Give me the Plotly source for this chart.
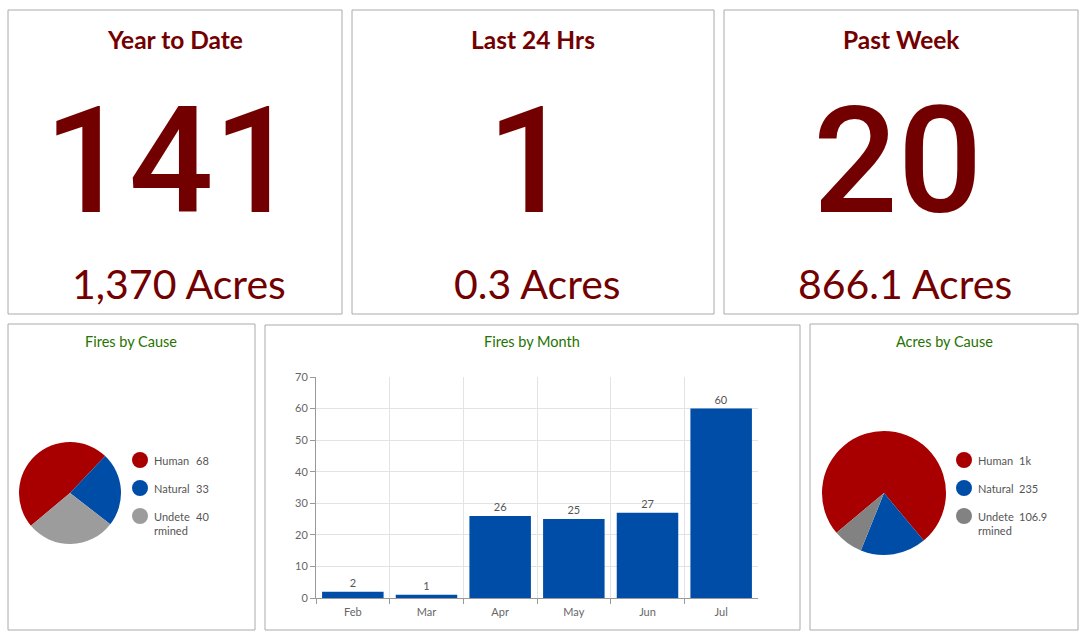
import plotly.graph_objects as go

W, H = 1088, 641

# ---------------- data ----------------
stat_titles = ["Year to Date", "Last 24 Hrs", "Past Week"]
stat_counts = [141, 1, 20]
stat_acres = ["1,370", "0.3", "866.1"]

cause_labels = ["Human", "Natural", "Undetermined"]
fires_by_cause = [68, 33, 40]
acres_by_cause = [1028.1, 235, 106.9]

months = ["Feb", "Mar", "Apr", "May", "Jun", "Jul"]
fires_by_month = [2, 1, 26, 25, 27, 60]

# ---------------- styling ----------------
DARK_RED = "#730000"
GREEN = "#267300"
BLUE = "#004da8"
RED = "#a80000"
GRAY1 = "#9c9c9c"
GRAY2 = "#828282"
TXT = "#555555"
BORDER = "#aaaaaa"
FONT = "Lato"
NUMFONT = "Roboto"


def px(x):
    return x / W


def py(y):
    return 1 - y / H


def fmt(v):
    if v >= 1000:
        return f"{v/1000:.0f}k"
    return f"{v:g}"


def wrap(s):
    return s[:6] + "<br>" + s[6:] if len(s) > 8 else s


fig = go.Figure()
shapes = []
annotations = []

# panel borders
panels = [(8, 10, 342, 314), (352, 10, 714, 314), (724, 10, 1078, 314),
          (8, 324, 255, 630), (265, 325, 800, 630), (810, 324, 1078, 630)]
for x0, y0, x1, y1 in panels:
    shapes.append(dict(type="rect", xref="paper", yref="paper",
                       x0=px(x0), x1=px(x1), y0=py(y1), y1=py(y0),
                       line=dict(color=BORDER, width=1), fillcolor="rgba(0,0,0,0)"))

# top stat panels
centers = [175, 533, 901]
for i, (t, c, a) in enumerate(zip(stat_titles, stat_counts, stat_acres)):
    cx = centers[i]
    annotations.append(dict(x=px(cx), y=py(40), xref="paper", yref="paper",
                            text=f"<b>{t}</b>", showarrow=False, xanchor="center", yanchor="middle",
                            font=dict(family=FONT, size=24.5, color=DARK_RED)))
    annotations.append(dict(x=px(cx - 4), y=py(161), xref="paper", yref="paper",
                            text=str(c), showarrow=False, xanchor="center", yanchor="middle",
                            font=dict(family=NUMFONT, size=149, color=DARK_RED, weight=500)))
    annotations.append(dict(x=px(cx + 4), y=py(284), xref="paper", yref="paper",
                            text=f"{a} Acres", showarrow=False, xanchor="center", yanchor="middle",
                            font=dict(family=FONT, size=41, color=DARK_RED)))

# panel titles
for t, cx in [("Fires by Cause", 131), ("Fires by Month", 532), ("Acres by Cause", 944)]:
    annotations.append(dict(x=px(cx), y=py(341), xref="paper", yref="paper",
                            text=t, showarrow=False, xanchor="center", yanchor="middle",
                            font=dict(family=FONT, size=14.5, color=GREEN)))

# pies
fig.add_trace(go.Pie(labels=cause_labels, values=fires_by_cause, sort=False,
                     direction="clockwise", rotation=230, textinfo="none",
                     marker=dict(colors=[RED, BLUE, GRAY1]), hole=0,
                     domain=dict(x=[px(19), px(121)], y=[py(544), py(442)]),
                     showlegend=False))
fig.add_trace(go.Pie(labels=cause_labels, values=acres_by_cause, sort=False,
                     direction="clockwise", rotation=230, textinfo="none",
                     marker=dict(colors=[RED, BLUE, GRAY2]), hole=0,
                     domain=dict(x=[px(822), px(946)], y=[py(555), py(431)]),
                     showlegend=False))

# pie legends
for vals, colors, cx, tx, vx in [(fires_by_cause, [RED, BLUE, GRAY1], 140, 152, 194),
                                 (acres_by_cause, [RED, BLUE, GRAY2], 964, 976, 1017)]:
    for j, (lab, v, col) in enumerate(zip(cause_labels, vals, colors)):
        cy = 460 + 28 * j
        shapes.append(dict(type="circle", xref="paper", yref="paper",
                           x0=px(cx - 8), x1=px(cx + 8), y0=py(cy + 8), y1=py(cy - 8),
                           fillcolor=col, line=dict(width=0)))
        annotations.append(dict(x=px(tx), y=py(cy - 8), xref="paper", yref="paper",
                                text=wrap(lab), showarrow=False, xanchor="left", yanchor="top",
                                align="left", font=dict(family=FONT, size=11, color=TXT)))
        annotations.append(dict(x=px(vx), y=py(cy - 8), xref="paper", yref="paper",
                                text=fmt(v), showarrow=False, xanchor="left", yanchor="top",
                                align="left", font=dict(family=FONT, size=11, color=TXT)))

# bar chart
fig.add_trace(go.Bar(x=months, y=fires_by_month, marker=dict(color=BLUE, line=dict(width=0)),
                     text=[str(v) for v in fires_by_month], textposition="outside",
                     textfont=dict(family=FONT, size=11, color=TXT), cliponaxis=False,
                     showlegend=False, xaxis="x", yaxis="y"))

fig.update_layout(
    width=W, height=H, margin=dict(l=0, r=0, t=0, b=0, pad=0, autoexpand=False),
    paper_bgcolor="white", plot_bgcolor="white",
    font=dict(family=FONT, color=TXT),
    bargap=0.165, showlegend=False,
    xaxis=dict(domain=[px(316), px(758)], type="category", tickson="boundaries",
               showgrid=True, gridcolor="#e3e3e3", ticks="outside", ticklen=5,
               tickcolor="#999999", showline=True, linecolor="#999999",
               tickfont=dict(family=FONT, size=11, color="#666666"), anchor="y",
               ticklabelstandoff=4, fixedrange=True, automargin=False),
    yaxis=dict(domain=[py(598), py(377)], range=[0, 70], dtick=10,
               showgrid=True, gridcolor="#e3e3e3", ticks="outside", ticklen=5,
               tickcolor="#999999", showline=True, linecolor="#999999", zeroline=False,
               tickfont=dict(family=FONT, size=11, color="#666666"), anchor="x",
               fixedrange=True, automargin=False),
    shapes=shapes, annotations=annotations,
)

fig.write_html("out.html", config={"displayModeBar": False},
               post_script="document.body.style.margin='0';document.body.style.overflow='hidden';")
